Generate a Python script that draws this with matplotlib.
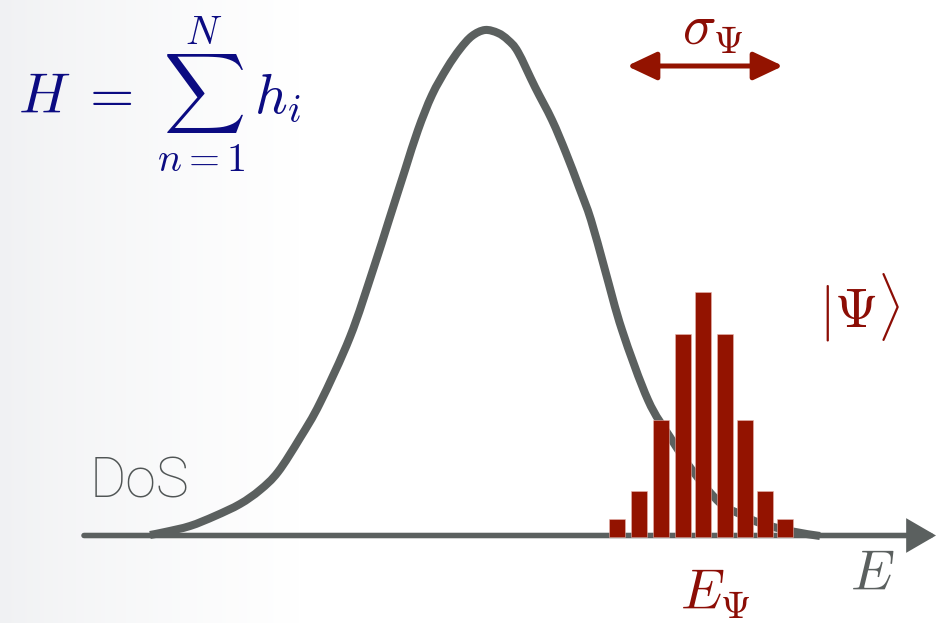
import numpy as np
import matplotlib
matplotlib.use("Agg")
import matplotlib.pyplot as plt
from matplotlib.colors import LinearSegmentedColormap
from matplotlib.path import Path
from matplotlib.patches import PathPatch

plt.rcParams['mathtext.fontset'] = 'cm'

# ---- data (pixel-like units; y grows downward) ----
dos_x = [150, 165, 190, 215, 240, 260, 278, 300, 320, 350, 373, 389, 405, 418,
         432, 447, 460, 472, 485, 498, 508, 518, 535, 552, 566, 579, 591, 605,
         622, 648, 670, 692, 720, 740, 760, 790, 820]
dos_y = [535, 532, 526, 516, 504, 490, 472, 438, 403, 337, 270, 220, 170, 130,
         95, 68, 49, 36, 30, 33, 40, 52, 87, 120, 153, 187, 220, 270,
         330, 400, 437, 470, 503, 514, 523, 531, 536]

bar_x = [617.2, 639.2, 661.2, 682.8, 703.0, 724.7, 745.3, 765.3, 785.3]
bar_top = [519.3, 491.0, 420.0, 334.0, 292.3, 334.0, 420.0, 491.0, 519.3]
baseline = 537.0

GRAY = '#5b605f'
RED = '#931300'
TXT_RED = '#8c0d05'
NAVY = '#0b0b82'

W, H = 936, 623
fig = plt.figure(figsize=(W / 100, H / 100), dpi=100)
ax = fig.add_axes([0, 0, 1, 1])
ax.set_xlim(0, W)
ax.set_ylim(H, 0)
ax.axis('off')

# background: faint gray-to-white gradient on the left
cmap = LinearSegmentedColormap.from_list('bg', ['#f0f1f3', '#ffffff'])
grad = np.clip(np.linspace(0, 1, W) / (300 / W), 0, 1) ** 0.8
ax.imshow(grad[None, :], cmap=cmap, extent=(0, W, H, 0), aspect='auto', zorder=0,
          vmin=0, vmax=1)

# energy axis with arrow
ax.annotate('', xy=(936, 535.5), xytext=(84, 535.5),
            arrowprops=dict(arrowstyle='-|>,head_length=1.55,head_width=0.9',
                            mutation_scale=10, lw=4.0, color=GRAY,
                            shrinkA=0, shrinkB=0, joinstyle='miter'),
            zorder=1)

# density of states curve: smooth Bezier path through the read points
pts = np.column_stack([dos_x, dos_y]).astype(float)
verts = [pts[0]]
codes = [Path.MOVETO]
n = len(pts)
for i in range(n - 1):
    p0 = pts[max(i - 1, 0)]
    p1 = pts[i]
    p2 = pts[i + 1]
    p3 = pts[min(i + 2, n - 1)]
    c1 = p1 + (p2 - p0) / 6.0
    c2 = p2 - (p3 - p1) / 6.0
    verts += [c1, c2, p2]
    codes += [Path.CURVE4] * 3
ax.add_patch(PathPatch(Path(verts, codes), facecolor='none', edgecolor=GRAY,
                       lw=5.8, capstyle='butt', joinstyle='round', zorder=2))

# state distribution bars
heights = [baseline - t for t in bar_top]
ax.bar(bar_x, [-h for h in heights], bottom=baseline, width=16, color=RED,
       edgecolor='#e8b5ae', linewidth=0.4, zorder=3)

# sigma arrow
ax.annotate('', xy=(783, 66), xytext=(627, 66),
            arrowprops=dict(arrowstyle='<|-|>,head_length=1.8,head_width=0.85',
                            mutation_scale=10, lw=3.6, color=RED,
                            shrinkA=0, shrinkB=0),
            zorder=3)

# texts
ax.text(18, 113, r'$H\;=\;\sum_{n{=}1}^{N}\,h_i$', fontsize=41, color=NAVY,
        ha='left', va='baseline', zorder=4)
ax.text(682, 45, r'$\sigma_\Psi$', fontsize=40, color=TXT_RED,
        ha='left', va='baseline', zorder=4)
ax.text(860, 308, r'$|\Psi\rangle$', fontsize=40, color=TXT_RED,
        ha='center', va='center', zorder=4)
ax.text(680, 610, r'$E_\Psi$', fontsize=40, color=TXT_RED,
        ha='left', va='baseline', zorder=4)
ax.text(850, 590, r'$E$', fontsize=40, color=GRAY,
        ha='left', va='baseline', zorder=4)
ax.text(90, 497, 'DoS', fontsize=40, color='#505555',
        family=['Roboto', 'Lato', 'DejaVu Sans'],
        fontweight='light', ha='left', va='baseline', zorder=4)

fig.savefig('out.png', dpi=100)
